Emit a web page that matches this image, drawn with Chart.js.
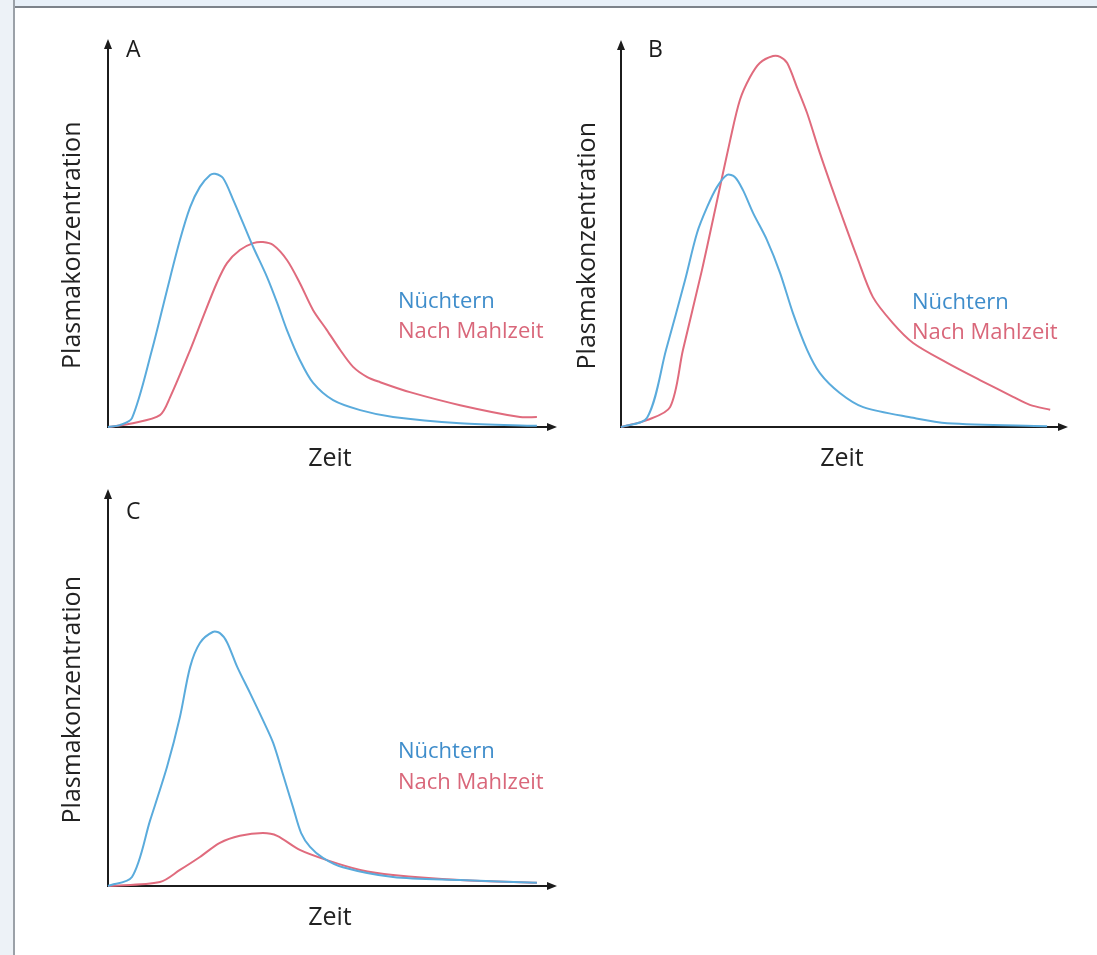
<!DOCTYPE html>
<html>
<head>
<meta charset="utf-8">
<script src="https://cdn.jsdelivr.net/npm/chart.js@4"></script>
<style>
html,body{margin:0;padding:0;background:#ffffff;}
body{width:1097px;height:955px;position:relative;overflow:hidden;}
.frameTop{position:absolute;left:0;top:0;width:1097px;height:6px;background:#e8f0f8;border-bottom:2px solid #7d838a;}
.frameLeft{position:absolute;left:0;top:0;width:13px;height:955px;background:#edf2f7;border-right:2px solid #9ba1a8;}
canvas{position:absolute;left:0;top:0;}
</style>
</head>
<body>
<div class="frameTop"></div>
<div class="frameLeft"></div>
<canvas id="cA" width="1097" height="955"></canvas>
<canvas id="cB" width="1097" height="955"></canvas>
<canvas id="cC" width="1097" height="955"></canvas>
<script>
// ---- Data (arbitrary units, x: Zeit 0..100, y: Plasmakonzentration 0..100) ----
const panelLetters = ['A', 'B', 'C'];
const seriesNames = ['Nüchtern', 'Nach Mahlzeit'];
const xAxisTitle = 'Zeit';
const yAxisTitle = 'Plasmakonzentration';

// Panel A
const nuechternA_x = [0, 2.7, 5.4, 9.9, 13.3, 16.2, 18.5, 20.7, 23.0, 24.1, 25.9, 28.2, 30.4, 32.7, 35.8, 38.1, 40.3, 43.2, 46.2, 50.7, 56.8, 64.2, 79.3, 96.6];
const nuechternA_y = [0, 0.5, 2.3, 20.1, 35.8, 48.8, 57.4, 62.7, 65.8, 66.1, 65.0, 59.3, 53.3, 47.0, 39.2, 32.4, 25.3, 17.5, 11.5, 7.0, 4.4, 2.6, 1.0, 0.3];
const mahlzeitA_x  = [0, 5.6, 11.7, 14.0, 18.5, 21.4, 24.5, 26.8, 29.7, 32.7, 34.9, 37.2, 40.3, 43.2, 46.2, 49.3, 52.3, 55.2, 58.3, 61.3, 68.0, 79.3, 92.8, 96.6];
const mahlzeitA_y  = [0, 1.0, 3.1, 7.8, 20.1, 28.7, 37.6, 42.8, 46.2, 48.0, 48.3, 47.5, 43.6, 37.6, 30.5, 25.3, 20.1, 15.7, 13.1, 11.7, 9.1, 5.7, 2.6, 2.6];

// Panel B
const nuechternB_x = [0, 5.9, 10.2, 14.5, 17.2, 19.5, 21.7, 24.0, 25.8, 27.6, 29.9, 33.0, 36.0, 38.9, 42.1, 45.0, 49.5, 54.8, 66.1, 73.8, 96.4];
const nuechternB_y = [0, 2.4, 20.2, 38.5, 50.8, 57.6, 62.8, 66.0, 65.4, 62.0, 56.0, 49.0, 40.3, 29.8, 20.2, 14.1, 8.9, 5.2, 2.4, 1.0, 0.2];
const mahlzeitB_x  = [0, 5.9, 11.1, 14.0, 18.3, 21.5, 24.7, 26.9, 29.2, 31.4, 34.4, 36.0, 37.6, 39.8, 42.1, 45.0, 47.9, 49.5, 53.4, 57.0, 61.5, 66.1, 73.8, 81.2, 88.7, 92.5, 97.1];
const mahlzeitB_y  = [0, 1.8, 5.2, 20.1, 41.0, 58.0, 75.1, 85.6, 91.6, 95.3, 97.1, 96.9, 95.3, 89.0, 82.2, 71.7, 62.0, 56.8, 44.5, 34.0, 27.2, 22.0, 16.8, 12.3, 7.9, 5.8, 4.5];

// Panel C
const nuechternC_x = [0, 5.4, 9.5, 13.3, 16.2, 18.5, 20.7, 23.6, 25.2, 26.8, 29.1, 32.0, 34.9, 37.2, 39.4, 41.7, 43.5, 45.5, 48.4, 52.9, 64.2, 79.3, 96.6];
const nuechternC_y = [0, 2.3, 16.8, 30.4, 43.1, 55.9, 62.0, 64.8, 64.5, 62.2, 55.9, 49.2, 42.3, 36.5, 28.5, 20.0, 13.5, 10.0, 7.2, 4.8, 2.3, 1.5, 0.8];
const mahlzeitC_x  = [0, 11.7, 16.2, 20.7, 25.2, 29.7, 34.9, 38.1, 43.2, 49.3, 56.8, 64.2, 79.3, 96.6];
const mahlzeitC_y  = [0, 1.0, 4.1, 7.4, 11.0, 12.8, 13.5, 12.8, 9.2, 6.6, 4.1, 2.8, 1.5, 0.8];

// ---- Styling ----
const FONT = '"Open Sans", "Noto Sans", sans-serif';
const BLUE_LINE = '#5aabdc';
const RED_LINE = '#e06b7d';
const BLUE_TEXT = '#3f8dcb';
const RED_TEXT = '#d9677a';
const AXIS = '#1c1c1c';

function pts(xs, ys) { return xs.map((x, i) => ({ x: x, y: ys[i] })); }

const arrowPlugin = {
  id: 'axisArrows',
  afterDraw(chart) {
    const { ctx, chartArea: a } = chart;
    ctx.save();
    ctx.fillStyle = AXIS;
    ctx.beginPath();
    ctx.moveTo(a.left, a.top - 5);
    ctx.lineTo(a.left - 4, a.top + 5);
    ctx.lineTo(a.left + 4, a.top + 5);
    ctx.closePath();
    ctx.fill();
    ctx.beginPath();
    ctx.moveTo(a.right + 5, a.bottom);
    ctx.lineTo(a.right - 5, a.bottom - 4);
    ctx.lineTo(a.right - 5, a.bottom + 4);
    ctx.closePath();
    ctx.fill();
    ctx.restore();
  }
};

const textPlugin = {
  id: 'panelText',
  afterDraw(chart, args, opts) {
    const { ctx, chartArea: a } = chart;
    ctx.save();
    ctx.textBaseline = 'middle';
    ctx.textAlign = 'left';
    (opts.items || []).forEach(it => {
      ctx.font = it.size + 'px ' + FONT;
      ctx.fillStyle = it.color;
      ctx.fillText(it.text, a.left + it.dx, a.top + it.dy);
    });
    ctx.restore();
  }
};

function makePanel(canvasId, letter, bx, by, rx, ry, L) {
  const seriesColors = [BLUE_TEXT, RED_TEXT];
  const lineStyle = { borderWidth: 2, pointRadius: 0, tension: 0.3, fill: false, clip: false };
  return new Chart(document.getElementById(canvasId), {
    type: 'line',
    data: {
      datasets: [
        Object.assign({ label: seriesNames[0], data: pts(bx, by), borderColor: BLUE_LINE }, lineStyle),
        Object.assign({ label: seriesNames[1], data: pts(rx, ry), borderColor: RED_LINE }, lineStyle)
      ]
    },
    options: {
      responsive: false,
      animation: false,
      devicePixelRatio: 1,
      layout: { padding: L.padding },
      plugins: {
        legend: { display: false },
        tooltip: { enabled: false },
        panelText: {
          items: [
            { text: letter, color: '#1c1c1c', size: 23, dx: L.letter[0], dy: L.letter[1] },
            { text: seriesNames[0], color: seriesColors[0], size: 22, dx: L.labels[0], dy: L.labels[1] },
            { text: seriesNames[1], color: seriesColors[1], size: 22, dx: L.labels[0], dy: L.labels[2] }
          ]
        }
      },
      scales: {
        x: {
          type: 'linear', min: 0, max: 100,
          grid: { display: false },
          ticks: { display: false },
          border: { display: true, color: AXIS, width: 2 },
          title: { display: true, text: xAxisTitle, color: '#222', font: { family: FONT, size: 25 }, padding: { top: 0, bottom: L.xTitlePad } },
          afterFit(s) { s.height = L.xHeight; }
        },
        y: {
          type: 'linear', min: 0, max: 100,
          grid: { display: false },
          ticks: { display: false },
          border: { display: true, color: AXIS, width: 2 },
          // trailing spaces shift the centred title slightly downward, as in the original
          title: { display: true, text: yAxisTitle + '   ', color: '#222', font: { family: FONT, size: 25 }, padding: { top: L.yTitlePad, bottom: 0 } },
          afterFit(s) { s.width = L.yWidth; }
        }
      }
    },
    plugins: [arrowPlugin, textPlugin]
  });
}

function build() {
  makePanel('cA', panelLetters[0], nuechternA_x, nuechternA_y, mahlzeitA_x, mahlzeitA_y, {
    padding: { left: 0, top: 44, right: 545, bottom: 465 },
    yWidth: 108, xHeight: 63, yTitlePad: 58, xTitlePad: 16,
    letter: [18, 6], labels: [290, 258, 288]
  });
  makePanel('cB', panelLetters[1], nuechternB_x, nuechternB_y, mahlzeitB_x, mahlzeitB_y, {
    padding: { left: 561, top: 45, right: 34, bottom: 465 },
    yWidth: 60, xHeight: 63, yTitlePad: 12, xTitlePad: 16,
    letter: [27, 5], labels: [291, 258, 288]
  });
  makePanel('cC', panelLetters[2], nuechternC_x, nuechternC_y, mahlzeitC_x, mahlzeitC_y, {
    padding: { left: 0, top: 494, right: 545, bottom: 6 },
    yWidth: 108, xHeight: 63, yTitlePad: 58, xTitlePad: 16,
    letter: [18, 18], labels: [290, 258, 289]
  });
}

if (document.fonts && document.fonts.load) {
  Promise.all([document.fonts.load('25px "Open Sans"'), document.fonts.load('22px "Open Sans"')]).then(build, build);
} else {
  build();
}
</script>
</body>
</html>
